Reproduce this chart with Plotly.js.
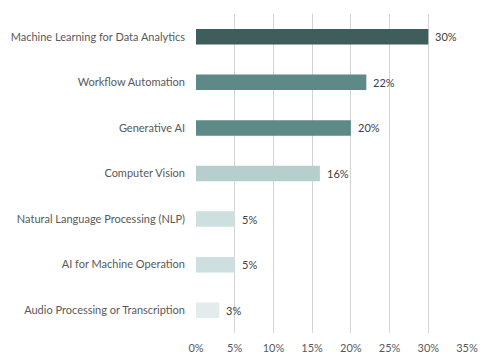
<!DOCTYPE html>
<html>
<head>
<meta charset="utf-8">
<script src="https://cdn.plot.ly/plotly-3.0.1.min.js"></script>
<style>html,body{margin:0;padding:0;background:#fff;}#chart{width:492px;height:364px;}</style>
</head>
<body>
<div id="chart"></div>
<script>
var categories = [
  "Machine Learning for Data Analytics",
  "Workflow Automation",
  "Generative AI",
  "Computer Vision",
  "Natural Language Processing (NLP)",
  "AI for Machine Operation",
  "Audio Processing or Transcription"
];
var values = [0.30, 0.22, 0.20, 0.16, 0.05, 0.05, 0.03];
var labels = ["30%", "22%", "20%", "16%", "5%", "5%", "3%"];
var barColors = ["#3f5d5b", "#5d8986", "#5d8986", "#b7cecf", "#cde0df", "#cde0df", "#e3ecec"];
var xTickVals = [0, 0.05, 0.10, 0.15, 0.20, 0.25, 0.30, 0.35];
var xTickText = ["0%", "5%", "10%", "15%", "20%", "25%", "30%", "35%"];

var font = "Lato, 'Segoe UI', sans-serif";

var trace = {
  type: "bar",
  orientation: "h",
  y: categories,
  x: values,
  marker: {color: barColors, line: {width: 0}},
  width: 0.34,
  hoverinfo: "none"
};

var annotations = categories.map(function (c, i) {
  return {
    x: values[i], y: c, xref: "x", yref: "y",
    text: labels[i], showarrow: false,
    xanchor: "left", xshift: 5,
    font: {family: font, size: 11, color: "#404040"}
  };
});

var layout = {
  width: 492, height: 364,
  margin: {l: 196, r: 25, t: 14, b: 31, pad: 0},
  paper_bgcolor: "#ffffff",
  plot_bgcolor: "#ffffff",
  showlegend: false,
  bargap: 0.66,
  font: {family: font, size: 11, color: "#404040"},
  xaxis: {
    range: [0, 0.35],
    tickvals: xTickVals,
    ticktext: xTickText,
    showgrid: true,
    gridcolor: "#d4d4d4",
    gridwidth: 1,
    zeroline: false,
    showline: false,
    ticks: "",
    ticklabelstandoff: 7,
    tickfont: {family: font, size: 11, color: "#595959"},
    fixedrange: true
  },
  yaxis: {
    type: "category",
    autorange: "reversed",
    showgrid: false,
    zeroline: false,
    showline: false,
    ticks: "",
    ticklabelstandoff: 10,
    tickfont: {family: font, size: 11, color: "#595959"},
    fixedrange: true
  },
  annotations: annotations
};

Plotly.newPlot("chart", [trace], layout, {staticPlot: true, displayModeBar: false});
</script>
</body>
</html>
